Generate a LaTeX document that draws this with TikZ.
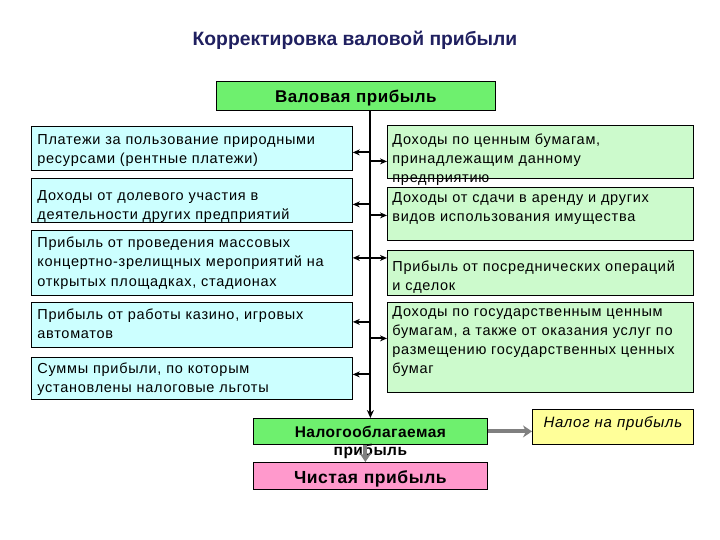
\documentclass[tikz,border=0pt]{standalone}
\usepackage{fontspec}
\setmainfont{Liberation Sans}
\newfontfamily\boxfont[LetterSpace=5]{Liberation Sans}
\newfontfamily\headfont[LetterSpace=3]{Liberation Sans}
\usetikzlibrary{arrows.meta}
\definecolor{titleblue}{RGB}{32,32,96}
\definecolor{topgreen}{RGB}{110,240,110}
\definecolor{lcyan}{RGB}{204,255,255}
\definecolor{rgreen}{RGB}{204,250,204}
\definecolor{pinkbox}{RGB}{255,153,204}
\definecolor{yellowbox}{RGB}{255,255,153}
\tikzset{
  anybox/.style={draw=black, line width=0.8pt, anchor=north west, inner ysep=0pt},
  lbox/.style={anybox, fill=lcyan, align=left, inner xsep=6pt, text width=309pt,
    font=\boxfont\fontsize{14.5}{19.5}\selectfont},
  rbox/.style={anybox, fill=rgreen, align=left, inner xsep=5pt, text width=296pt,
    font=\boxfont\fontsize{14.5}{19}\selectfont},
  cbox/.style={anybox, align=center, inner xsep=2pt},
  arr/.style={line width=2pt, -{Stealth[length=7pt,width=6pt]}},
  trunkline/.style={line width=2pt, -{Stealth[length=8pt,width=7pt]}},
  garr/.style={draw=gray, line width=4pt, -{Stealth[length=9pt,width=12pt]}}
}
\begin{document}
\begin{tikzpicture}[x=1pt,y=-1pt]
\useasboundingbox (0,0) rectangle (720,540);
\fill[white] (0,0) rectangle (720,540);
\node[font=\bfseries\fontsize{19.3}{22}\selectfont, text=titleblue] (title) at (355,40) {Корректировка валовой прибыли};
\node[cbox, fill=topgreen, text width=275pt, text height=21pt, text depth=8pt,
  font=\headfont\bfseries\fontsize{17}{20}\selectfont] (gross) at (216,81) {Валовая прибыль};
% left boxes
\node[lbox, text height=18pt, text depth=26pt] (l1) at (31,126)
  {Платежи за пользование природными\\ресурсами (рентные платежи)};
\node[lbox, text height=22pt, text depth=22pt] (l2) at (31,178)
  {Доходы от долевого участия в\\деятельности других предприятий};
\node[lbox, text height=17pt, text depth=48pt] (l3) at (31,230)
  {Прибыль от проведения массовых\\концертно-зрелищных мероприятий на\\открытых площадках, стадионах};
\node[lbox, text height=17pt, text depth=28pt] (l4) at (31,302)
  {Прибыль от работы казино, игровых\\автоматов};
\node[lbox, text height=16pt, text depth=26pt] (l5) at (31,357)
  {Суммы прибыли, по которым\\установлены налоговые льготы};
% right boxes
\node[rbox, text height=19pt, text depth=34pt] (rA) at (387,125)
  {Доходы по ценным бумагам,\\принадлежащим данному\\предприятию};
\node[rbox, text height=15pt, text depth=38pt] (rB) at (387,187)
  {Доходы от сдачи в аренду и других\\видов использования имущества};
\node[rbox, text height=21pt, text depth=24pt] (rC) at (387,250)
  {Прибыль от посреднических операций\\и сделок};
\node[rbox, text height=14pt, text depth=76pt] (rD) at (387,302)
  {Доходы по государственным ценным\\бумагам, а также от оказания услуг по\\размещению государственных ценных\\бумаг};
% bottom boxes
\node[cbox, fill=topgreen, text width=230pt, text height=19pt, text depth=7pt,
  font=\headfont\bfseries\fontsize{15.5}{18}\selectfont] (tax) at (253,418) {Налогооблагаемая\\прибыль};
\node[cbox, fill=pinkbox, text width=230pt, text height=21pt, text depth=6pt,
  font=\headfont\bfseries\fontsize{17.5}{20}\selectfont] (net) at (253,462) {Чистая прибыль};
\node[cbox, fill=yellowbox, text width=157pt, text height=18pt, text depth=17pt,
  font=\boxfont\itshape\fontsize{15}{17}\selectfont] (nal) at (532,409) {Налог на прибыль};
% trunk
\draw[trunkline] (gross.south -| tax.north) -- (tax.north);
% left arrows
\coordinate (a1) at ([yshift=-4pt]l1.east);
\coordinate (a2) at ([yshift=-4pt]l2.east);
\coordinate (a3) at ([yshift=5pt]l3.east);
\coordinate (a4) at ([yshift=3pt]l4.east);
\coordinate (a5) at ([yshift=4pt]l5.east);
\foreach \c in {a1,a2,a3,a4,a5} \draw[arr] (\c -| tax.north) -- (\c);
% right arrows
\coordinate (b1) at ([yshift=-9.5pt]rA.west);
\coordinate (b2) at ([yshift=-1.5pt]rB.west);
\coordinate (b3) at ([yshift=15pt]rC.west);
\coordinate (b4) at ([yshift=9pt]rD.west);
\foreach \c in {b1,b2,b3,b4} \draw[arr] (\c -| tax.north) -- (\c);
% gray arrows
\draw[garr] (tax.east) -- (tax.east -| nal.west);
\coordinate (g1) at ([xshift=-5pt]tax.south);
\draw[garr] (g1) -- (g1 |- net.north);
\end{tikzpicture}
\end{document}
